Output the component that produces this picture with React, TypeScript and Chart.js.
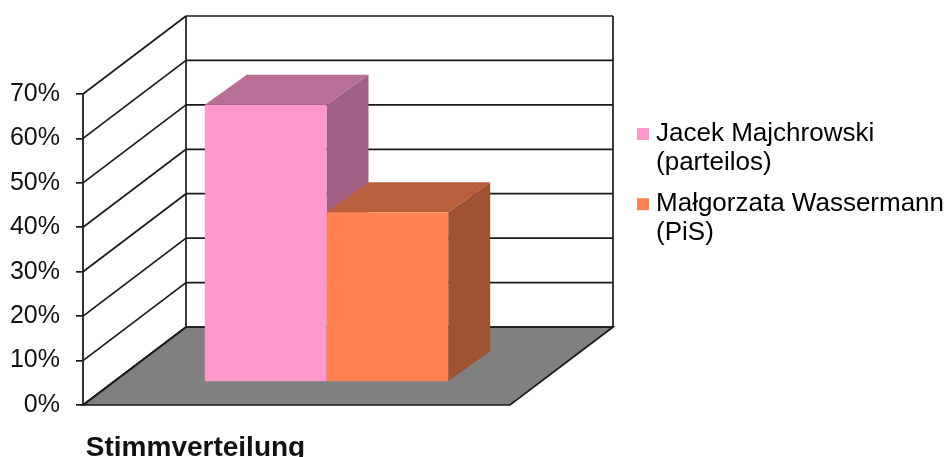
import React, { useEffect, useRef } from "react";
import { Chart, registerables } from "chart.js";

Chart.register(...registerables);

const categories = ["Stimmverteilung"];
const seriesLabels = [["Jacek Majchrowski", "(parteilos)"], ["Małgorzata Wassermann", "(PiS)"]];
const majchrowski = [62.4];
const wassermann = [38.2];
const frontColors = ["#FF99CC", "#FF8050"];
const topColors = ["#B97096", "#BA5F3B"];
const sideColors = ["#A06084", "#9F5231"];
const FONT = "'Liberation Sans', Arial, sans-serif";

// Oblique projection of the 3D box
const WALL_DX = 103;
const WALL_DY = -78;
const BAR_SHIFT_X = 30;
const BAR_SHIFT_Y = -23;
const BAR_DX = 42;
const BAR_DY = -30;

const poly = (ctx: CanvasRenderingContext2D, pts: number[][], fill?: string) => {
  ctx.beginPath();
  pts.forEach(([x, y], i) => (i ? ctx.lineTo(x, y) : ctx.moveTo(x, y)));
  ctx.closePath();
  if (fill) {
    ctx.fillStyle = fill;
    ctx.fill();
  }
};

const line = (ctx: CanvasRenderingContext2D, x1: number, y1: number, x2: number, y2: number) => {
  ctx.beginPath();
  ctx.moveTo(x1, y1);
  ctx.lineTo(x2, y2);
  ctx.stroke();
};

const box3d = {
  id: "box3d",
  beforeLayout(chart: any) {
    const l = chart.legend;
    if (l && !l.__patched) {
      l.__patched = true;
      const orig = l.fit.bind(l);
      l.fit = () => {
        orig();
        l.width = 437;
      };
    }
  },
  afterLayout(chart: any) {
    const l = chart.legend;
    if (!l) return;
    const pad = l.options.labels.padding;
    l.left = 643 - pad;
    l.right = 947;
    l.top = 121 - pad;
    l.bottom = 457;
  },
  beforeDatasetsDraw(chart: any) {
    const { ctx, chartArea: a, scales } = chart;
    const y = scales.y;
    const bottom = y.getPixelForValue(0);
    const top = y.getPixelForValue(70);
    ctx.save();
    ctx.strokeStyle = "#1a1a1a";
    ctx.lineWidth = 1.7;
    // floor
    poly(
      ctx,
      [
        [a.left, bottom],
        [a.right, bottom],
        [a.right + WALL_DX, bottom + WALL_DY],
        [a.left + WALL_DX, bottom + WALL_DY],
      ],
      "#808080"
    );
    ctx.stroke();
    // gridlines on side and back walls
    y.ticks.forEach((t: any) => {
      const py = y.getPixelForValue(t.value);
      line(ctx, a.left, py, a.left + WALL_DX, py + WALL_DY);
      line(ctx, a.left + WALL_DX, py + WALL_DY, a.right + WALL_DX, py + WALL_DY);
    });
    line(ctx, a.left + WALL_DX, top + WALL_DY, a.left + WALL_DX, bottom + WALL_DY);
    line(ctx, a.right + WALL_DX, top + WALL_DY, a.right + WALL_DX, bottom + WALL_DY);
    // bar side and top faces
    chart.data.datasets.forEach((_: any, i: number) => {
      const bar = chart.getDatasetMeta(i).data[0];
      if (!bar) return;
      const { x, y: by, base, width } = bar.getProps(["x", "y", "base", "width"], true);
      const L = x - width / 2 + BAR_SHIFT_X;
      const R = x + width / 2 + BAR_SHIFT_X;
      const T = by + BAR_SHIFT_Y;
      const B = base + BAR_SHIFT_Y;
      poly(ctx, [[R, T], [R + BAR_DX, T + BAR_DY], [R + BAR_DX, B + BAR_DY], [R, B]], sideColors[i]);
      poly(ctx, [[L, T], [R, T], [R + BAR_DX, T + BAR_DY], [L + BAR_DX, T + BAR_DY]], topColors[i]);
    });
    ctx.restore();
  },
  beforeDatasetDraw(chart: any) {
    chart.ctx.save();
    chart.ctx.translate(BAR_SHIFT_X, BAR_SHIFT_Y);
  },
  afterDatasetDraw(chart: any) {
    chart.ctx.restore();
  },
};

export default function App() {
  const ref = useRef<HTMLCanvasElement>(null);
  useEffect(() => {
    const chart = new Chart(ref.current!, {
      type: "bar",
      data: {
        labels: categories,
        datasets: [
          { label: seriesLabels[0].join(" "), data: majchrowski, backgroundColor: frontColors[0] },
          { label: seriesLabels[1].join(" "), data: wassermann, backgroundColor: frontColors[1] },
        ],
      },
      plugins: [box3d],
      options: {
        animation: false,
        responsive: false,
        devicePixelRatio: 1,
        layout: { padding: { top: 94, left: 0, right: 0, bottom: 0 } },
        datasets: { bar: { categoryPercentage: 0.57, barPercentage: 1, clip: false } },
        plugins: {
          tooltip: { enabled: false },
          legend: {
            position: "right",
            align: "start",
            labels: {
              usePointStyle: true,
              boxWidth: 0.01,
              boxHeight: 12,
              padding: 13,
              color: "#111",
              font: { family: FONT, size: 26, lineHeight: 1.1 },
              generateLabels: () =>
                seriesLabels.map((text, i) => ({
                  text,
                  fillStyle: frontColors[i],
                  strokeStyle: frontColors[i],
                  lineWidth: 0,
                  pointStyle: "rect",
                  datasetIndex: i,
                })) as any,
            },
          },
        },
        scales: {
          x: {
            grid: { display: false },
            border: { display: false },
            afterFit: (s: any) => {
              s.height = 52;
            },
            ticks: {
              color: "#111",
              maxRotation: 0,
              padding: 18,
              labelOffset: -101,
              font: { family: FONT, size: 28, weight: "bold" },
            },
          },
          y: {
            min: 0,
            max: 70,
            afterFit: (s: any) => {
              s.width = 83;
            },
            grid: { drawOnChartArea: false, drawTicks: true, tickLength: 7, color: "#1a1a1a", lineWidth: 1.7 },
            border: { display: true, color: "#333", width: 2 },
            ticks: {
              stepSize: 10,
              color: "#111",
              padding: 16,
              font: { family: FONT, size: 25 },
              callback: (v: any) => `${v}%`,
            },
          },
        },
      },
    });
    return () => chart.destroy();
  }, []);
  return (
    <canvas
      ref={ref}
      width={947}
      height={457}
      style={{ position: "absolute", left: 0, top: 0, width: 947, height: 457, background: "#fff" }}
    />
  );
}
